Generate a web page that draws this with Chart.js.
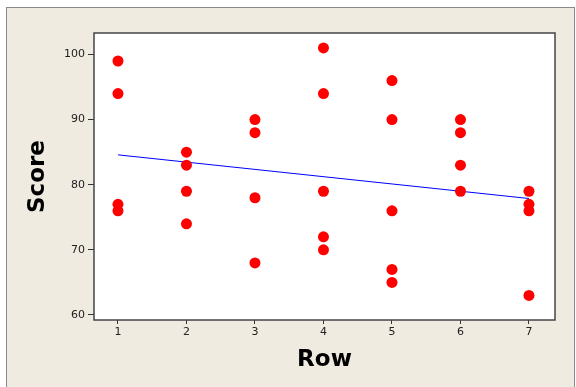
<!DOCTYPE html>
<html>
<head>
<meta charset="utf-8">
<script src="https://cdn.jsdelivr.net/npm/chart.js@4"></script>
<style>
  html, body { margin: 0; padding: 0; background: #fff; overflow: hidden; }
  .frame {
    position: absolute; left: 6px; top: 7px; width: 567px; height: 400px;
    background: #efebe1; border: 1px solid #8a8a8a;
  }
  #scoreChart { position: absolute; left: 0; top: 0; }
</style>
</head>
<body>
<div class="frame"></div>
<canvas id="scoreChart" width="576" height="387"></canvas>
<script>
(() => {
  'use strict'

  // Scores by row
  const rowValues   = [1, 1, 1, 1,  2, 2, 2, 2,  3, 3, 3, 3,  4, 4, 4, 4, 4,  5, 5, 5, 5, 5,  6, 6, 6, 6,  7, 7, 7, 7];
  const scoreValues = [99, 94, 77, 76,  85, 83, 79, 74,  90, 88, 78, 68,  101, 94, 79, 72, 70,  96, 90, 76, 67, 65,  90, 88, 83, 79,  79, 77, 76, 63];

  const xTicks = [1, 2, 3, 4, 5, 6, 7];
  const yTicks = [60, 70, 80, 90, 100];

  // Least squares fit of score on row
  const n = rowValues.length;
  const mx = rowValues.reduce((a, b) => a + b, 0) / n;
  const my = scoreValues.reduce((a, b) => a + b, 0) / n;
  let sxy = 0, sxx = 0;
  rowValues.forEach((x, i) => {
    sxy += (x - mx) * (scoreValues[i] - my);
    sxx += (x - mx) * (x - mx);
  });
  const slope = sxy / sxx;
  const intercept = my - slope * mx;
  const fitX = [Math.min(...rowValues), Math.max(...rowValues)];

  const points = rowValues.map((x, i) => ({ x: x, y: scoreValues[i] }));
  const fitLine = fitX.map(x => ({ x: x, y: intercept + slope * x }));

  // White plot box with dark outline
  const plotBox = {
    id: 'plotBox',
    beforeDatasetsDraw(chart) {
      const { ctx, chartArea: a } = chart;
      ctx.save();
      ctx.fillStyle = '#ffffff';
      ctx.fillRect(a.left, a.top, a.right - a.left, a.bottom - a.top);
      ctx.restore();
    },
    afterDraw(chart) {
      const { ctx, chartArea: a } = chart;
      ctx.save();
      ctx.strokeStyle = '#444';
      ctx.lineWidth = 1.5;
      ctx.strokeRect(a.left, a.top, a.right - a.left, a.bottom - a.top);
      ctx.restore();
    }
  };

  const tickFont = { family: 'DejaVu Sans', size: 11 };
  const titleFont = { family: 'DejaVu Sans', size: 23, weight: 'bold' };

  new Chart(document.getElementById('scoreChart'), {
    type: 'scatter',
    data: {
      datasets: [
        {
          label: 'Score',
          data: points,
          pointRadius: 5.5,
          pointHoverRadius: 5.5,
          pointBackgroundColor: '#ff0000',
          pointBorderWidth: 0,
          order: 1
        },
        {
          type: 'line',
          label: 'Fit',
          data: fitLine,
          borderColor: '#0000ff',
          borderWidth: 1,
          pointRadius: 0,
          fill: false,
          order: 2
        }
      ]
    },
    options: {
      responsive: false,
      animation: false,
      layout: { padding: { left: 0, top: 33, right: 21, bottom: 0 } },
      plugins: { legend: { display: false }, tooltip: { enabled: false } },
      scales: {
        x: {
          type: 'linear',
          min: 0.65,
          max: 7.38,
          afterBuildTicks: s => { s.ticks = xTicks.map(v => ({ value: v })); },
          afterFit: s => { s.height = 67; },
          grid: { drawOnChartArea: false, tickLength: 4, tickColor: '#333' },
          border: { display: false },
          ticks: { font: tickFont, color: '#222', padding: 2, maxRotation: 0 },
          title: { display: true, text: 'Row', font: titleFont, color: '#000', padding: { top: 0, bottom: 13 } }
        },
        y: {
          min: 59.23,
          max: 103.3,
          afterBuildTicks: s => { s.ticks = yTicks.map(v => ({ value: v })); },
          afterFit: s => { s.width = 94; },
          grid: { drawOnChartArea: false, tickLength: 6, tickColor: '#333' },
          border: { display: false },
          ticks: { font: tickFont, color: '#222', padding: 3 },
          title: { display: true, text: 'Score', font: titleFont, color: '#000', padding: { top: 24, bottom: 0 } }
        }
      }
    },
    plugins: [plotBox]
  });
})()
</script>
</body>
</html>
